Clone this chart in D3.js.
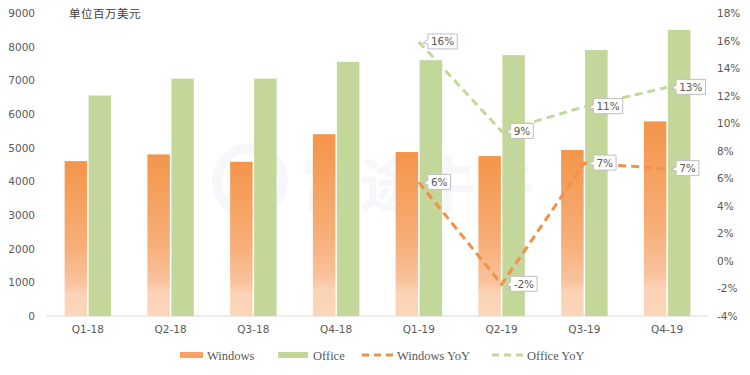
<!DOCTYPE html>
<html>
<head>
<meta charset="utf-8">
<script src="https://cdn.jsdelivr.net/npm/d3@7"></script>
<style>
  body { margin: 0; background: #fff; }
  svg { display: block; }
</style>
</head>
<body>
<svg id="chart"></svg>
<script>
// данные
const quarters = ["Q1-18", "Q2-18", "Q3-18", "Q4-18", "Q1-19", "Q2-19", "Q3-19", "Q4-19"];
const windowsRev = [4600, 4800, 4580, 5400, 4870, 4750, 4930, 5780];
const officeRev = [6550, 7050, 7050, 7550, 7600, 7750, 7900, 8500];
const yoyQuarters = ["Q1-19", "Q2-19", "Q3-19", "Q4-19"];
const windowsYoY = [5.7, -1.7, 7.1, 6.7];
const officeYoY = [15.9, 9.4, 11.2, 12.6];
const leftTicks = [0, 1000, 2000, 3000, 4000, 5000, 6000, 7000, 8000, 9000];
const rightTicks = [-4, -2, 0, 2, 4, 6, 8, 10, 12, 14, 16, 18];

const width = 750;
const height = 375;
const orange = "#F0914A";
const green = "#C4D79B";
const textColor = "#595959";

const svg = d3.select("#chart")
    .attr("width", width)
    .attr("height", height);

const x = d3.scaleBand()
    .domain(quarters)
    .range([46.5, 708.5]);

const yLeft = d3.scaleLinear()
    .domain([0, 9000])
    .range([316, 13]);

const yRight = d3.scaleLinear()
    .domain([-4, 18])
    .range([316, 13]);

// градиент для Windows
const grad = svg.append("defs").append("linearGradient")
    .attr("id", "winGrad")
    .attr("x1", 0).attr("y1", 0)
    .attr("x2", 0).attr("y2", 1);
grad.append("stop").attr("offset", "0%").attr("stop-color", "#F4954A");
grad.append("stop").attr("offset", "55%").attr("stop-color", "#F7AE78");
grad.append("stop").attr("offset", "78%").attr("stop-color", "#F9C29C");
grad.append("stop").attr("offset", "86%").attr("stop-color", "#FBD3B6");
grad.append("stop").attr("offset", "100%").attr("stop-color", "#FBD6BA");

// водяной знак
const wm = svg.append("g").attr("opacity", 0.55);
wm.append("circle")
    .attr("cx", 250).attr("cy", 181).attr("r", 33)
    .attr("fill", "none")
    .attr("stroke", "#EEF1F6")
    .attr("stroke-width", 10);
wm.append("text")
    .attr("x", 302).attr("y", 206)
    .attr("font-family", "Noto Sans CJK SC")
    .attr("font-size", 58)
    .attr("font-weight", "bold")
    .attr("fill", "#EEF1F6")
    .text("富途牛牛");

// ось X
svg.append("line")
    .attr("x1", x.range()[0]).attr("x2", x.range()[1])
    .attr("y1", yLeft(0)).attr("y2", yLeft(0))
    .attr("stroke", "#D9D9D9")
    .attr("stroke-width", 1);

svg.append("g")
    .selectAll("text")
    .data(quarters)
    .join("text")
    .attr("x", d => x(d) + x.bandwidth() / 2)
    .attr("y", 333)
    .attr("text-anchor", "middle")
    .attr("font-family", "DejaVu Sans")
    .attr("font-size", 10.5)
    .attr("fill", textColor)
    .text(d => d);

// левая ось
svg.append("g")
    .selectAll("text")
    .data(leftTicks)
    .join("text")
    .attr("x", 35)
    .attr("y", d => yLeft(d) + 4)
    .attr("text-anchor", "end")
    .attr("font-family", "DejaVu Sans")
    .attr("font-size", 10.5)
    .attr("fill", textColor)
    .text(d => d);

// правая ось
svg.append("g")
    .selectAll("text")
    .data(rightTicks)
    .join("text")
    .attr("x", 717)
    .attr("y", d => yRight(d) + 4)
    .attr("font-family", "DejaVu Sans")
    .attr("font-size", 10.5)
    .attr("fill", textColor)
    .text(d => d + "%");

// подпись единиц
svg.append("text")
    .attr("x", 69).attr("y", 18)
    .attr("font-family", "Noto Sans CJK SC")
    .attr("font-size", 11.5)
    .attr("fill", "#404040")
    .attr("letter-spacing", 0.5)
    .text("单位百万美元");

// столбцы
const barW = 22.5;
const gap = 1.5;

svg.append("g")
    .selectAll("rect")
    .data(windowsRev)
    .join("rect")
    .attr("x", (d, i) => x(quarters[i]) + x.bandwidth() / 2 - gap / 2 - barW)
    .attr("y", d => yLeft(d))
    .attr("width", barW)
    .attr("height", d => yLeft(0) - yLeft(d))
    .attr("fill", "url(#winGrad)");

svg.append("g")
    .selectAll("rect")
    .data(officeRev)
    .join("rect")
    .attr("x", (d, i) => x(quarters[i]) + x.bandwidth() / 2 + gap / 2)
    .attr("y", d => yLeft(d))
    .attr("width", barW)
    .attr("height", d => yLeft(0) - yLeft(d))
    .attr("fill", green);

// линии YoY
const cx = q => x(q) + x.bandwidth() / 2;

function drawYoY(values, color) {
    const line = d3.line()
        .x((d, i) => cx(yoyQuarters[i]))
        .y(d => yRight(d));
    svg.append("path")
        .datum(values)
        .attr("d", line)
        .attr("fill", "none")
        .attr("stroke", color)
        .attr("stroke-width", 3)
        .attr("stroke-dasharray", "8,5");
}

drawYoY(officeYoY, green);
drawYoY(windowsYoY, orange);

// подписи значений
function drawLabels(values) {
    values.forEach((v, i) => {
        const px = cx(yoyQuarters[i]);
        const py = yRight(v);
        const g = svg.append("g");
        const t = g.append("text")
            .attr("x", px + 12)
            .attr("y", py + 3.5)
            .attr("font-family", "DejaVu Sans")
            .attr("font-size", 10.5)
            .attr("fill", textColor)
            .text(Math.round(v) + "%");
        const w = t.node().getComputedTextLength();
        const x0 = px + 9;
        const x1 = x0 + w + 6;
        const y0 = py - 8;
        const y1 = py + 7;
        g.insert("path", "text")
            .attr("d", `M${x0},${y0} H${x1} V${y1} H${x0} V${py + 2} L${px + 4},${py + 1} L${x0},${py - 2} Z`)
            .attr("fill", "#fff")
            .attr("stroke", "#BFBFBF")
            .attr("stroke-width", 1);
    });
}

drawLabels(officeYoY);
drawLabels(windowsYoY);

// легенда
const legend = svg.append("g")
    .attr("font-family", "Liberation Serif")
    .attr("font-size", 12.5)
    .attr("fill", textColor);

const legendItems = [
    { name: "Windows", x: 180, type: "rect", color: orange },
    { name: "Office", x: 278, type: "rect", color: green },
    { name: "Windows YoY", x: 362, type: "dash", color: orange },
    { name: "Office YoY", x: 492, type: "dash", color: green }
];

legendItems.forEach(item => {
    if (item.type === "rect") {
        legend.append("rect")
            .attr("x", item.x)
            .attr("y", 352)
            .attr("width", item.name === "Windows" ? 23 : 30)
            .attr("height", 6)
            .attr("fill", item.name === "Windows" ? "#F7A266" : item.color);
    } else {
        legend.append("line")
            .attr("x1", item.x).attr("x2", item.x + 31)
            .attr("y1", 355).attr("y2", 355)
            .attr("stroke", item.color)
            .attr("stroke-width", 3)
            .attr("stroke-dasharray", "7,5");
    }
    legend.append("text")
        .attr("x", item.x + (item.name === "Windows" ? 27 : 35))
        .attr("y", 359.5)
        .text(item.name);
});
</script>
</body>
</html>
